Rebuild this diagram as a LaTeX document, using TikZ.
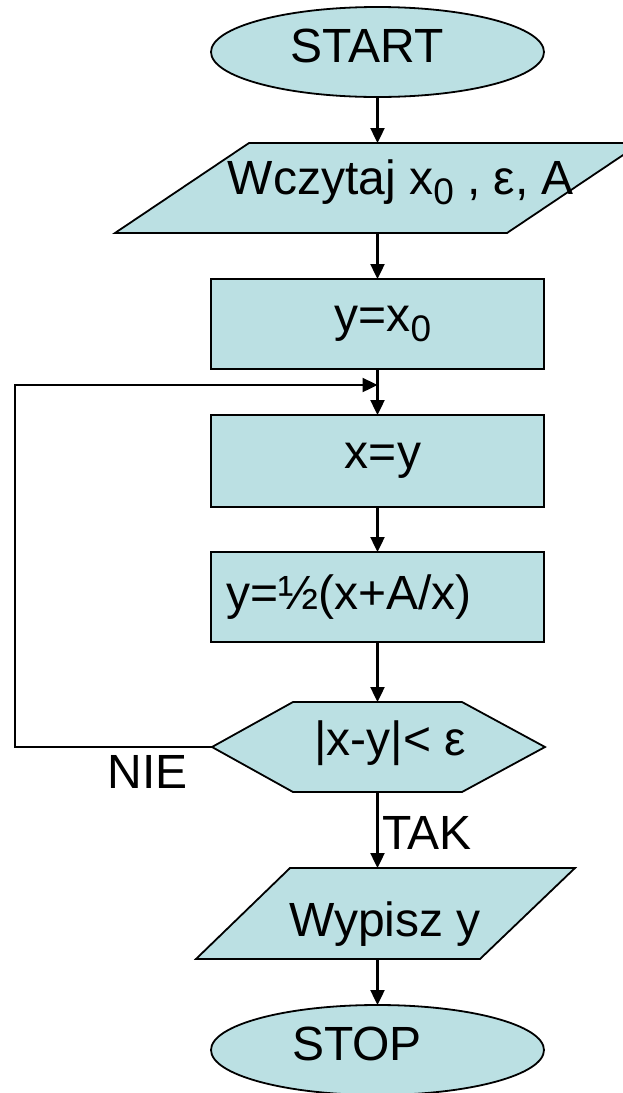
\documentclass[tikz,border=0pt]{standalone}
\usepackage{fontspec}
\setmainfont{Liberation Sans}
\usetikzlibrary{shapes.geometric,arrows.meta,calc,backgrounds}
\definecolor{fillc}{HTML}{BBE0E3}
\newcommand{\subzero}{\raisebox{-10pt}{\fontsize{37}{37}\selectfont 0}}
\begin{document}
\begin{tikzpicture}[x=1pt,y=-1pt,
  every node/.style={font=\fontsize{48}{52}\selectfont, inner sep=0pt, outer sep=0pt},
  term/.style={ellipse, draw, fill=fillc, line width=1.8pt, minimum width=333pt, minimum height=90pt},
  proc/.style={rectangle, draw, fill=fillc, line width=1.8pt, minimum width=333pt, minimum height=90pt},
  frame/.style={rectangle, minimum height=90pt},
  outline/.style={draw, fill=fillc, line width=1.8pt, line join=miter},
  arr/.style={line width=2.4pt, -{Triangle[length=15pt,width=14pt]}},
  plain/.style={line width=2.4pt}]
\useasboundingbox (0,0) rectangle (623,1093);

\node[term] (start) at (377.5,52) {\raisebox{6pt}[\height][\depth]{START}\hspace*{21pt}};
\node[frame] (in) at (378,188) {\hspace*{46pt}\raisebox{6pt}[\height][\depth]{Wczytaj x\subzero{} , ε, A}};
\node[proc] (p1) at (377.5,324) {\hspace*{11pt}y=x\subzero};
\node[proc, minimum height=92pt] (p2) at (377.5,461) {\hspace*{11pt}x=y};
\node[proc] (p3) at (377.5,597) {y=½(x+A/x)\hspace*{57pt}};
\node[frame, minimum width=333pt] (dec) at (378.5,747) {\hspace*{23pt}\raisebox{4pt}[\height][\depth]{|x-y|< ε}};
\node[frame, minimum height=91pt] (out) at (385,913.5) {\raisebox{-11pt}[\height][\depth]{Wypisz y}};
\node[term] (stop) at (377.5,1050) {\raisebox{6pt}[\height][\depth]{STOP}\hspace*{41pt}};

\node (nie) at (148,772) {NIE};
\node (tak) at (427,833) {TAK};

\begin{scope}[on background layer]
\draw[outline] ($(in)+(-129,-45)$) -- ($(in)+(263,-45)$) -- ($(in)+(129,45)$) -- ($(in)+(-263,45)$) -- cycle;
\draw[outline] (dec.west) -- ($(dec)+(-85.5,-45)$) -- ($(dec)+(83.5,-45)$) -- (dec.east) -- ($(dec)+(83.5,45)$) -- ($(dec)+(-85.5,45)$) -- cycle;
\draw[outline] ($(out)+(-95,-45.5)$) -- ($(out)+(190,-45.5)$) -- ($(out)+(95,45.5)$) -- ($(out)+(-189,45.5)$) -- cycle;
\end{scope}

\coordinate (merge) at (377.5,385);
\coordinate (corner) at (15,385);

\draw[arr] (start.south) -- (start.south |- in.north);
\draw[arr] (p1.north |- in.south) -- (p1.north);
\draw[plain] (p1.south) -- (merge);
\draw[arr] (merge) -- (p2.north);
\draw[arr] (p2.south) -- (p3.north);
\draw[arr] (p3.south) -- (p3.south |- dec.north);
\draw[arr] (p3.south |- dec.south) -- (p3.south |- out.north);
\draw[arr] (p3.south |- out.south) -- (stop.north);
\draw[arr] (dec.west) -| (corner) -- (merge);
\end{tikzpicture}
\end{document}
